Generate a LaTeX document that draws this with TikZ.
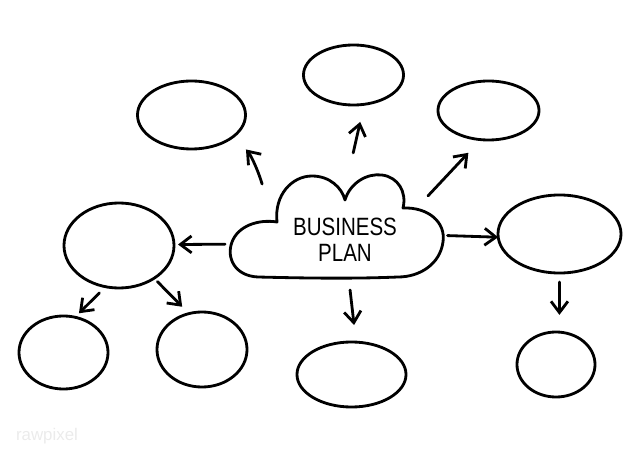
\documentclass[tikz,border=0pt]{standalone}
\usepackage{fontspec}
\usepackage{tikz}
\usetikzlibrary{arrows.meta,shapes.geometric}
\newfontfamily\handfont[FakeStretch=0.82]{Liberation Sans}
\newfontfamily\markfont{Liberation Sans}

\begin{document}
\begin{tikzpicture}[x=0.025cm, y=-0.025cm,
        bubble/.style 2 args={ellipse, draw=black, line width=2pt, inner sep=0pt, outer sep=0pt, minimum width=#1*0.05cm, minimum height=#2*0.05cm},
        arr/.style={-{Straight Barb[length=8pt,width=12pt]}, line width=2pt, line cap=round, line join=round}]
        \useasboundingbox (0,0) rectangle (640,453);

        \draw[line width=2pt, line join=round] (258,277) .. controls (235,276) and (226,258) .. (232,242)
            .. controls (238,226) and (258,219) .. (277,222)
            .. controls (274,195) and (292,176) .. (312,176)
            .. controls (330,176) and (342,188) .. (345,200)
            .. controls (350,183) and (367,173) .. (382,175)
            .. controls (398,177) and (407,192) .. (403,208)
            .. controls (428,207) and (446,222) .. (443,242)
            .. controls (440,264) and (420,277) .. (398,277)
            .. controls (350,279) and (300,278) .. (258,277) -- cycle;
        \node[ellipse, inner sep=0pt, outer sep=0pt, minimum width=107*0.05cm, minimum height=52*0.05cm] (cloud) at (336,228) {};
        \node[font={\handfont\fontsize{17.8}{18.5}\selectfont}, align=center] (title) at (345,239.5) {BUSINESS\\PLAN};

        \node[bubble={54}{34}] (tl) at (191.5,115) {};
        \node[bubble={50}{30}] (top) at (353.5,75) {};
        \node[bubble={50.5}{29.5}] (tr) at (488.5,110.5) {};
        \node[bubble={55}{42.5}] (lm) at (119,245.5) {};
        \node[bubble={61.5}{39}] (rm) at (559.5,234) {};
        \node[bubble={44.5}{36.5}] (bla) at (63.5,352.5) {};
        \node[bubble={45}{37.5}] (blb) at (202,349.5) {};
        \node[bubble={54.5}{32.5}] (bc) at (351.5,374.5) {};
        \node[bubble={39}{32.5}] (br) at (556,364.5) {};

        \draw[arr, shorten <=0.145cm, shorten >=0.45cm] (cloud.152.6) to[bend right=12] (tl.-26.5);
        \draw[arr, shorten <=0.6cm, shorten >=0.45cm] (cloud.77.2) -- (top.-70.7);
        \draw[arr, shorten <=0.11cm, shorten >=0.45cm] (cloud.18) -- (tr.-105.6);
        \draw[arr, shorten <=0.23cm, shorten >=0.1cm] (cloud.-171.1) -- (lm.1.6);
        \draw[arr, shorten <=0.14cm] (cloud.-4.9) -- (rm.-177.2);
        \draw[arr, shorten <=0.26cm, shorten >=0.43cm] (cloud.-76.1) -- (bc.82.1);
        \draw[arr, shorten <=0.225cm, shorten >=0.43cm] (rm.-90) -- (br.84.7);
        \draw[arr, shorten <=0.22cm, shorten >=0.14cm] (lm.-108.4) -- (bla.72);
        \draw[arr, shorten <=0.12cm, shorten >=0.24cm] (lm.-43.7) -- (blb.110.4);

        \node[font={\markfont\fontsize{12}{12}\selectfont}, text=black!8] (mark) at (47,436) {rawpixel};
    \end{tikzpicture}
\end{document}
